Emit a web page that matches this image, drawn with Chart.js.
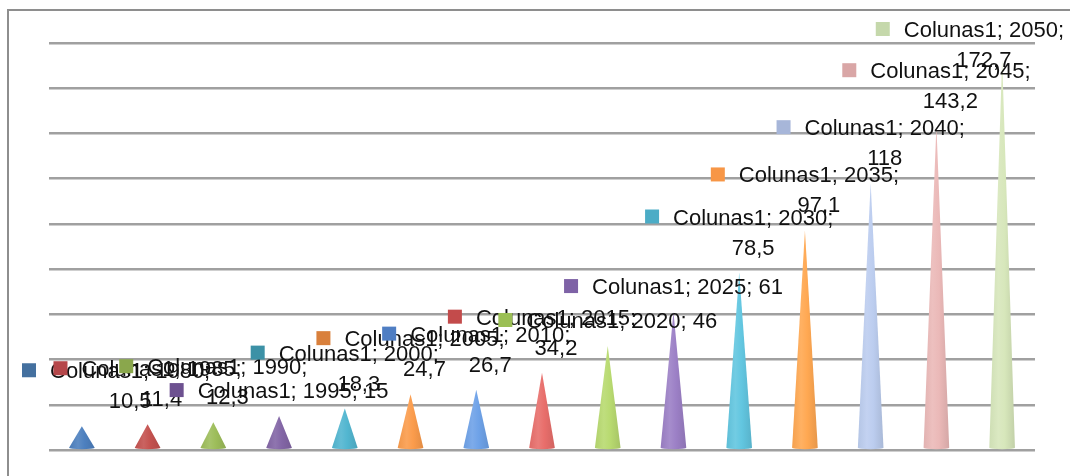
<!DOCTYPE html>
<html>
<head>
<meta charset="utf-8">
<script src="https://cdn.jsdelivr.net/npm/chart.js@4.4.1/dist/chart.umd.min.js"></script>
<style>
  html, body { margin: 0; padding: 0; background: #ffffff; overflow: hidden; }
  #wrap { position: relative; width: 1070px; height: 476px; overflow: hidden; }
  #frame { position: absolute; left: 7px; top: 9px; width: 1100px; height: 500px;
           border-left: 2px solid #8e8e8e; border-top: 2px solid #8e8e8e; }
  canvas { position: absolute; left: 0; top: 0; }
</style>
</head>
<body>
<div id="wrap">
  <div id="frame"></div>
  <canvas id="chart" width="1070" height="476"></canvas>
</div>
<script>
// Series and categories
const seriesName = 'Colunas1';
const years = ['1980', '1985', '1990', '1995', '2000', '2005', '2010', '2015',
               '2020', '2025', '2030', '2035', '2040', '2045', '2050'];
const values = [10.5, 11.4, 12.3, 15, 18.3, 24.7, 26.7, 34.2,
                46, 61, 78.5, 97.1, 118, 143.2, 172.7];

// Value axis range (gridlines every 20)
const axisMin = 0;
const axisMax = 180;
const axisStep = 20;

// Cone fill colours and label key colours, one per category
const coneColors = ['#4d80bf', '#c4524f', '#9dbd5a', '#8366a6', '#52b6d0', '#fb9c4c',
                    '#6ea2e8', '#e86e6b', '#b8da70', '#9c80c6', '#62c6e0', '#ffa852',
                    '#bccdef', '#ebb9b8', '#d7e7bb'];
const keyColors  = ['#44709f', '#b5474a', '#8aa74c', '#6d5190', '#3c91a6', '#d9803c',
                    '#4f7ec3', '#c34b4b', '#9bbf55', '#7e62a6', '#4bacc6', '#f79646',
                    '#a7b6d9', '#d9a6a6', '#c5d8ab'];

function shade(hex, f) {
  const n = parseInt(hex.slice(1), 16);
  let r = (n >> 16) & 255, g = (n >> 8) & 255, b = n & 255;
  if (f >= 0) { r += (255 - r) * f; g += (255 - g) * f; b += (255 - b) * f; }
  else { r *= 1 + f; g *= 1 + f; b *= 1 + f; }
  return `rgb(${Math.round(r)},${Math.round(g)},${Math.round(b)})`;
}

// Draws each bar element as a cone standing on the floor
const conePlugin = {
  id: 'cones',
  afterDatasetsDraw(chart) {
    const ctx = chart.ctx;
    const meta = chart.getDatasetMeta(0);
    meta.data.forEach((el, i) => {
      const { x, y, base, width } = el.getProps(['x', 'y', 'base', 'width'], true);
      const half = width / 2;
      const col = coneColors[i % coneColors.length];
      const grad = ctx.createLinearGradient(x - half, 0, x + half, 0);
      grad.addColorStop(0, shade(col, -0.04));
      grad.addColorStop(0.35, shade(col, 0.1));
      grad.addColorStop(0.6, col);
      grad.addColorStop(1, shade(col, -0.1));
      ctx.save();
      ctx.beginPath();
      ctx.moveTo(x - half, base - 1);
      ctx.lineTo(x, y);
      ctx.lineTo(x + half, base - 1);
      ctx.ellipse(x, base - 1, half, 1.5, 0, 0, Math.PI, false);
      ctx.closePath();
      ctx.fillStyle = grad;
      ctx.fill();
      ctx.restore();
    });
  }
};

// Data labels: key square + "series; category; value", wrapped when long
const labelFont = '22px "Liberation Sans", Arial, sans-serif';
const labelPlugin = {
  id: 'coneLabels',
  afterDatasetsDraw(chart) {
    const ctx = chart.ctx;
    const meta = chart.getDatasetMeta(0);
    const ds = chart.data.datasets[0];
    ctx.save();
    ctx.font = labelFont;
    ctx.textBaseline = 'alphabetic';
    meta.data.forEach((el, i) => {
      const { x, y } = el.getProps(['x', 'y'], true);
      const valText = String(ds.data[i]).replace('.', ',');
      const full = `${ds.label}; ${chart.data.labels[i]}; ${valText}`;
      const lines = full.length > 18
        ? [`${ds.label}; ${chart.data.labels[i]};`, valText]
        : [full];
      const lineH = 30, keySize = 14, gap = 14;
      const textW = Math.max(...lines.map(l => ctx.measureText(l).width));
      const boxW = keySize + gap + textW;
      let left = x - boxW / 2;
      left = Math.max(22, Math.min(left, 1064 - boxW));
      let lastBase = y - 18;
      let firstBase = lastBase - lineH * (lines.length - 1);
      if (firstBase < 37) { firstBase = 37; lastBase = firstBase + lineH * (lines.length - 1); }
      ctx.fillStyle = keyColors[i % keyColors.length];
      ctx.fillRect(left, firstBase - 15, keySize, keySize);
      ctx.fillStyle = '#111111';
      const textLeft = left + keySize + gap;
      const textCenter = textLeft + textW / 2;
      lines.forEach((l, k) => {
        const w = ctx.measureText(l).width;
        ctx.fillText(l, textCenter - w / 2, firstBase + k * lineH);
      });
    });
    ctx.restore();
  }
};

new Chart(document.getElementById('chart'), {
  type: 'bar',
  data: {
    labels: years,
    datasets: [{
      label: seriesName,
      data: values,
      backgroundColor: 'rgba(0,0,0,0)',
      borderWidth: 0,
      barPercentage: 0.39,
      categoryPercentage: 1.0
    }]
  },
  options: {
    responsive: false,
    animation: false,
    events: [],
    layout: { padding: { left: 49, right: 35, top: 43, bottom: 26 } },
    plugins: { legend: { display: false }, tooltip: { enabled: false }, title: { display: false } },
    scales: {
      x: {
        display: true,
        grid: { display: false, drawTicks: false },
        border: { display: false },
        ticks: { display: false },
        afterFit(s) { s.height = 0; }
      },
      y: {
        min: axisMin,
        max: axisMax,
        ticks: { display: false, stepSize: axisStep },
        border: { display: false },
        grid: { color: '#a0a0a0', lineWidth: 2.5, drawTicks: false },
        afterFit(s) { s.width = 0; }
      }
    }
  },
  plugins: [conePlugin, labelPlugin]
});
</script>
</body>
</html>
